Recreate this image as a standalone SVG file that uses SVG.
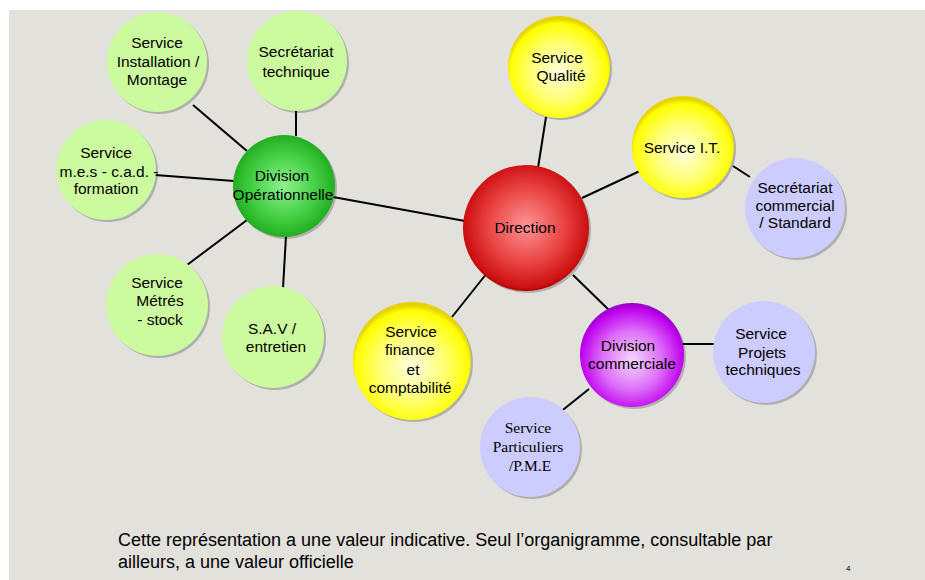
<svg xmlns="http://www.w3.org/2000/svg" width="925" height="580" viewBox="0 0 925 580">
<defs>
<radialGradient id="gYellow" cx="50%" cy="55%" r="52%">
<stop offset="0" stop-color="#FFFFE0"/>
<stop offset="0.55" stop-color="#FFFF70"/>
<stop offset="0.92" stop-color="#FFFF00"/>
<stop offset="1" stop-color="#E6D400"/>
</radialGradient>
<radialGradient id="gRed" cx="50%" cy="48%" r="52%">
<stop offset="0" stop-color="#FF9494"/>
<stop offset="0.6" stop-color="#E84040"/>
<stop offset="0.95" stop-color="#CC1010"/>
<stop offset="1" stop-color="#B00000"/>
</radialGradient>
<radialGradient id="gGreen" cx="50%" cy="50%" r="52%">
<stop offset="0" stop-color="#90F090"/>
<stop offset="0.6" stop-color="#44D044"/>
<stop offset="0.95" stop-color="#22B022"/>
<stop offset="1" stop-color="#189818"/>
</radialGradient>
<radialGradient id="gPurple" cx="50%" cy="55%" r="52%">
<stop offset="0" stop-color="#F6D8FF"/>
<stop offset="0.55" stop-color="#DC70F8"/>
<stop offset="0.95" stop-color="#C000F0"/>
<stop offset="1" stop-color="#A000CC"/>
</radialGradient>
</defs>
<style>
.lbl{font-family:"Liberation Sans",Arial,sans-serif;font-size:15.5px;text-anchor:middle;fill:#000}
.serif{font-family:"Liberation Serif","Times New Roman",serif;font-size:15.5px}
.sh{fill:#000;opacity:0.22}
.lg{fill:#CCFA9E}
.lv{fill:#CCCCFF}
.yl{fill:url(#gYellow)}
#connectors line{stroke:#000;stroke-width:2}
.note{font-family:"Liberation Sans",Arial,sans-serif;font-size:18px;fill:#000}
</style>
<rect x="0" y="0" width="925" height="580" fill="#FFFFFF"/>
<rect x="9" y="10" width="916" height="570" fill="#E2E1DB"/>

<g id="connectors">
<line x1="193" y1="105" x2="247" y2="151"/>
<line x1="296" y1="110" x2="296" y2="136"/>
<line x1="155" y1="175" x2="234" y2="181"/>
<line x1="333" y1="197" x2="465" y2="221"/>
<line x1="187" y1="265" x2="247" y2="220"/>
<line x1="286" y1="236" x2="283" y2="288"/>
<line x1="546" y1="117" x2="538" y2="168"/>
<line x1="582" y1="198" x2="642" y2="170"/>
<line x1="733" y1="166" x2="750" y2="177"/>
<line x1="487" y1="273" x2="452" y2="317"/>
<line x1="573" y1="275" x2="612" y2="313"/>
<line x1="678" y1="344" x2="714" y2="344"/>
<line x1="589" y1="389" x2="559" y2="413"/>
</g>

<g id="n-installation">
<circle class="sh" cx="159" cy="64" r="50"/>
<circle class="lg" cx="157" cy="62" r="50"/>
<text class="lbl" x="157" y="48">Service</text>
<text class="lbl" x="158" y="67">Installation /</text>
<text class="lbl" x="157" y="85">Montage</text>
</g>

<g id="n-secretariat-technique">
<circle class="sh" cx="299" cy="63" r="50"/>
<circle class="lg" cx="297" cy="61" r="50"/>
<text class="lbl" x="296" y="57">Secrétariat</text>
<text class="lbl" x="296" y="77">technique</text>
</g>

<g id="n-mes">
<circle class="sh" cx="108" cy="172" r="50"/>
<circle class="lg" cx="106" cy="170" r="50"/>
<text class="lbl" x="106" y="158">Service</text>
<text class="lbl" x="109" y="177">m.e.s - c.a.d. -</text>
<text class="lbl" x="106" y="194">formation</text>
</g>

<g id="n-division-operationnelle">
<circle class="sh" cx="286" cy="188" r="51"/>
<circle cx="284" cy="186" r="51" fill="url(#gGreen)"/>
<text class="lbl" x="282" y="181">Division</text>
<text class="lbl" x="283" y="200">Opérationnelle</text>
</g>

<g id="n-metres">
<circle class="sh" cx="159" cy="307" r="51"/>
<circle class="lg" cx="157" cy="305" r="51"/>
<text class="lbl" x="157" y="288">Service</text>
<text class="lbl" x="160" y="306">Métrés</text>
<text class="lbl" x="160" y="325">- stock</text>
</g>

<g id="n-sav">
<circle class="sh" cx="275" cy="339" r="51"/>
<circle class="lg" cx="273" cy="337" r="51"/>
<text class="lbl" x="272" y="334">S.A.V /</text>
<text class="lbl" x="276" y="352">entretien</text>
</g>

<g id="n-direction">
<circle class="sh" cx="528" cy="230" r="63"/>
<circle cx="526" cy="228" r="63" fill="url(#gRed)"/>
<text class="lbl" x="525" y="233">Direction</text>
</g>

<g id="n-finance">
<circle class="sh" cx="414" cy="363" r="59"/>
<circle class="yl" cx="412" cy="361" r="59"/>
<text class="lbl" x="411" y="337">Service</text>
<text class="lbl" x="410" y="355">finance</text>
<text class="lbl" x="413" y="375">et</text>
<text class="lbl" x="410" y="393">comptabilité</text>
</g>

<g id="n-qualite">
<circle class="sh" cx="561" cy="69" r="51"/>
<circle class="yl" cx="559" cy="67" r="51"/>
<text class="lbl" x="557" y="63">Service</text>
<text class="lbl" x="561" y="81">Qualité</text>
</g>

<g id="n-it">
<circle class="sh" cx="685" cy="149" r="51"/>
<circle class="yl" cx="683" cy="147" r="51"/>
<text class="lbl" x="682" y="153">Service I.T.</text>
</g>

<g id="n-secretariat-commercial">
<circle class="sh" cx="797" cy="210" r="50"/>
<circle class="lv" cx="795" cy="208" r="50"/>
<text class="lbl" x="795" y="193">Secrétariat</text>
<text class="lbl" x="795" y="211">commercial</text>
<text class="lbl" x="795" y="228">/ Standard</text>
</g>

<g id="n-division-commerciale">
<circle class="sh" cx="634" cy="357" r="52"/>
<circle cx="632" cy="355" r="52" fill="url(#gPurple)"/>
<text class="lbl" x="628" y="351">Division</text>
<text class="lbl" x="632" y="369">commerciale</text>
</g>

<g id="n-projets">
<circle class="sh" cx="766" cy="354" r="51"/>
<circle class="lv" cx="764" cy="352" r="51"/>
<text class="lbl" x="761" y="339">Service</text>
<text class="lbl" x="762" y="358">Projets</text>
<text class="lbl" x="763" y="375">techniques</text>
</g>

<g id="n-particuliers">
<circle class="sh" cx="532" cy="449" r="50"/>
<circle class="lv" cx="530" cy="447" r="50"/>
<text class="lbl serif" x="528" y="433">Service</text>
<text class="lbl serif" x="528" y="452">Particuliers</text>
<text class="lbl serif" x="530" y="471">/P.M.E</text>
</g>

<text class="note" x="118" y="546">Cette représentation a une valeur indicative. Seul l’organigramme, consultable par</text>
<text class="note" x="118" y="568">ailleurs, a une valeur officielle</text>
<text x="846" y="571" style="font-family:'Liberation Sans',Arial,sans-serif;font-size:8px;fill:#000">4</text>
</svg>
